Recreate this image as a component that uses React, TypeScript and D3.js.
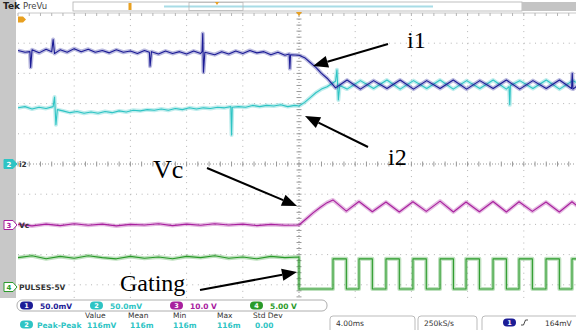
import React from "react";
import * as d3 from "d3";

type Pt = [number, number];

const W = 576;
const H = 330;

// horizontal 4.00 ms/div, trigger at 0 ms
// i1 (ch1) in mV, 50.0 mV/div
const i1Trace: Pt[] = [
  [-20, 188], [-19.5, 185], [-19.15, 186], [-19.1, 160], [-19.0, 189], [-18.5, 184],
  [-18.0, 190], [-17.6, 186], [-17.5, 206], [-17.4, 183], [-17.0, 189], [-16.5, 185],
  [-16.0, 191], [-15.5, 186], [-15.0, 190], [-14.5, 185], [-14.0, 188], [-13.5, 184],
  [-13.0, 189], [-12.5, 185], [-12.0, 187], [-11.5, 183], [-11.0, 188], [-10.65, 185],
  [-10.6, 162], [-10.5, 186], [-10.0, 182], [-9.5, 187], [-9.0, 183], [-8.5, 186],
  [-8.0, 182], [-7.5, 187], [-7.0, 183], [-6.9, 186], [-6.85, 216], [-6.8, 152],
  [-6.7, 185], [-6.0, 181], [-5.5, 186], [-5.0, 182], [-4.5, 187], [-4.0, 183],
  [-3.5, 188], [-3.0, 184], [-2.5, 186], [-2.0, 181], [-1.5, 185], [-1.0, 180],
  [-0.7, 182], [-0.65, 158], [-0.6, 181], [0, 180], [0.4, 176], [0.8, 168],
  [1.2, 160], [1.6, 150], [2.0, 142], [2.6, 126], [3.42, 139], [4.37, 124],
  [5.31, 138], [6.26, 125], [7.2, 139], [8.15, 124], [9.09, 138], [10.04, 125],
  [10.98, 139], [11.93, 124], [12.87, 138], [13.82, 125], [14.76, 139], [15.71, 124],
  [16.65, 138], [17.6, 125], [18.54, 139], [19.4, 125], [19.45, 150], [19.5, 124],
  [20, 133],
];

// i2 (ch2) in mV, 50.0 mV/div
const i2Trace: Pt[] = [
  [-20, 93], [-19.5, 95], [-19.0, 91], [-18.5, 94], [-18.0, 92], [-17.5, 95],
  [-17.4, 111], [-17.3, 65], [-17.2, 90], [-16.8, 88], [-16.3, 85], [-15.8, 87],
  [-15.3, 84], [-14.8, 86], [-14.3, 84], [-13.8, 87], [-13.3, 85], [-12.8, 88],
  [-12.3, 86], [-11.8, 89], [-11.3, 88], [-10.8, 90], [-10.3, 89], [-9.8, 91],
  [-9.3, 89], [-8.8, 92], [-8.3, 90], [-7.8, 93], [-7.3, 91], [-6.8, 93],
  [-6.3, 92], [-5.8, 94], [-5.3, 93], [-4.85, 95], [-4.8, 48], [-4.75, 94],
  [-4.3, 95], [-3.8, 94], [-3.3, 97], [-2.8, 95], [-2.3, 97], [-1.8, 96],
  [-1.3, 98], [-0.8, 95], [-0.3, 97], [0, 96], [0.4, 102], [0.8, 110],
  [1.2, 118], [1.6, 124], [2.0, 128], [2.4, 134], [2.6, 137], [2.7, 156],
  [2.8, 106], [2.9, 130], [3.42, 124], [4.37, 138], [5.31, 125], [6.26, 139],
  [7.2, 124], [8.15, 138], [9.09, 125], [10.04, 139], [10.98, 124], [11.93, 138],
  [12.87, 125], [13.82, 139], [14.76, 124], [14.95, 128], [15.0, 98], [15.05, 130],
  [15.71, 138], [16.65, 125], [17.6, 139], [18.54, 124], [19.49, 138], [20, 132],
];

// Vc (ch3) in V, 10.0 V/div
const vcTrace: Pt[] = [
  [-20, 0.2], [-19, -0.3], [-18, 0.3], [-17, -0.2], [-16, 0.4], [-15, -0.1],
  [-14, 0.3], [-13, -0.3], [-12, 0.2], [-11, 0.0], [-10, 0.4], [-9, -0.2],
  [-8, 0.3], [-7, -0.1], [-6, 0.4], [-5, 0.0], [-4, 0.3], [-3, -0.2],
  [-2, 0.2], [-1, -0.1], [0, 0.0], [0.5, 2.0], [1.0, 4.0], [1.5, 5.8],
  [2.0, 7.4], [2.42, 8.3], [3.37, 4.6], [4.27, 7.8], [5.22, 4.4], [6.19, 7.6],
  [7.14, 4.3], [8.11, 7.7], [9.06, 4.5], [10.04, 7.9], [10.99, 4.3], [11.89, 7.6],
  [12.84, 4.4], [13.81, 7.8], [14.76, 4.3], [15.66, 7.7], [16.61, 4.5], [17.58, 7.6],
  [18.53, 4.3], [19.43, 7.7], [20, 5.6],
];

// Gating (ch4) in V, 5.00 V/div
const gatePre: Pt[] = [
  [-20, 5.2], [-19, 5.5], [-18, 5.0], [-17, 5.4], [-16, 5.1], [-15, 5.5],
  [-14, 5.2], [-13, 5.0], [-12, 5.4], [-11, 5.1], [-10, 5.3], [-9, 5.0],
  [-8, 5.4], [-7, 5.2], [-6, 5.5], [-5, 5.1], [-4, 5.3], [-3, 5.0],
  [-2, 5.4], [-1, 5.2], [0, 5.3],
];
const gateRise = [2.42, 4.27, 6.19, 8.11, 10.04, 11.89, 13.81, 15.66, 17.58, 19.43];
const gateFall = [3.37, 5.22, 7.14, 9.06, 10.99, 12.84, 14.76, 16.61, 18.53, 20.38];

const channels = [
  { id: "1", color: "#1c1c96", setting: "50.0mV", perDiv: 50, pos: 0 },
  { id: "2", color: "#2ec4c4", setting: "50.0mV", perDiv: 50, pos: 0 },
  { id: "3", color: "#a8209e", setting: "10.0 V", perDiv: 10, pos: -2.02 },
  { id: "4", color: "#2a9a2a", setting: "5.00 V", perDiv: 5, pos: -4.14 },
];

const measHeader = ["Value", "Mean", "Min", "Max", "Std Dev"];
const measValues = ["116mV", "116m", "116m", "116m", "0.00"];

const x = d3.scaleLinear().domain([-20, 20]).range([18, 580]);
const y = d3.scaleLinear().domain([-5, 5]).range([315, 13]);

const line = d3.line<Pt>().x((d) => d[0]).y((d) => d[1]);

function tracePath(pts: Pt[], ch: number) {
  const c = channels[ch];
  return line(pts.map(([t, v]) => [x(t), y(c.pos + v / c.perDiv)] as Pt)) || "";
}

function Trace({ pts, ch }: { pts: Pt[]; ch: number }) {
  const d = tracePath(pts, ch);
  const col = channels[ch].color;
  return (
    <g fill="none" stroke={col} strokeLinejoin="round">
      <path d={d} strokeWidth={4} opacity={0.3} />
      <path d={d} strokeWidth={1.1} />
    </g>
  );
}

function Arrow({ x1, y1, x2, y2 }: { x1: number; y1: number; x2: number; y2: number }) {
  const a = Math.atan2(y2 - y1, x2 - x1);
  const len = 15, half = 6;
  const bx = x2 - len * Math.cos(a), by = y2 - len * Math.sin(a);
  const p1 = [bx + half * Math.sin(a), by - half * Math.cos(a)];
  const p2 = [bx - half * Math.sin(a), by + half * Math.cos(a)];
  return (
    <g>
      <line x1={x1} y1={y1} x2={bx} y2={by} stroke="#000" strokeWidth={2} />
      <path d={`M${x2},${y2}L${p1[0]},${p1[1]}L${p2[0]},${p2[1]}Z`} fill="#000" />
    </g>
  );
}

function ChTag({ yy, color, id, filled, label }: { yy: number; color: string; id: string; filled: boolean; label: string }) {
  return (
    <g fontFamily="DejaVu Sans, sans-serif" fontSize={7} fontWeight="bold">
      <path
        d={`M4,${yy - 4.5}h9l4,4.5l-4,4.5h-9z`}
        fill={filled ? color : "#fff"}
        stroke={color}
        strokeWidth={1}
      />
      <text x={9} y={yy + 2.5} textAnchor="middle" fill={filled ? "#fff" : color}>{id}</text>
      <text x={19} y={yy + 3} fill="#333" fontSize={7.5}>{label}</text>
    </g>
  );
}

export default function App() {
  const gatePts: Pt[] = [...gatePre, [0, 0]];
  gateRise.forEach((r, i) => {
    gatePts.push([r, 0], [r, 5], [gateFall[i], 5], [gateFall[i], 0]);
  });

  const vGrid = d3.range(-16, 17, 4);
  const hGrid = d3.range(-4, 5, 1);
  const minorX = d3.range(-20, 20.01, 0.8);
  const minorY = d3.range(-5, 5.01, 0.2);
  const sans = "DejaVu Sans, sans-serif";

  return (
    <svg width={W} height={H} style={{ position: "absolute", left: 0, top: 0, background: "#fff" }}>
      <defs>
        <clipPath id="plot">
          <rect x={18} y={13} width={W - 18} height={285} />
        </clipPath>
      </defs>
      <rect width={W} height={H} fill="#fff" />

      {/* left strip and top bar */}
      <rect x={0} y={0} width={16} height={298} fill="#c8c8c8" />
      <rect x={73} y={2} width={449} height={9} fill="#fff" stroke="#b0b0b0" strokeWidth={0.8} />
      <rect x={522} y={2} width={54} height={9} fill="#c4c4c4" />
      <line x1={164} x2={433} y1={6.5} y2={6.5} stroke="#a8dce6" strokeWidth={2} />
      <rect x={189} y={2.5} width={54} height={8} fill="none" stroke="#b8b8b8" strokeWidth={0.8} />
      <rect x={128.5} y={3} width={3} height={7} fill="#e8a020" />
      <path d="M215,2h4l-2,3z" fill="#e8a020" />
      <text x={3} y={9} fontFamily={sans} fontSize={9} fontWeight="bold" fill="#222">Tek</text>
      <text x={23} y={9} fontFamily={sans} fontSize={8.5} fill="#444">PreVu</text>

      {/* graticule */}
      <g stroke="#b4b4b4" strokeWidth={1}>
        {vGrid.filter((t) => t !== 0).map((t) => (
          <line key={"v" + t} x1={x(t)} x2={x(t)} y1={13} y2={298} strokeDasharray="1 5.04" />
        ))}
        {hGrid.filter((d) => d !== 0).map((d) => (
          <line key={"h" + d} x1={18} x2={W} y1={y(d)} y2={y(d)} strokeDasharray="1 4.62" />
        ))}
        <line x1={18} x2={W} y1={13} y2={13} stroke="#c8c8c8" />
        <line x1={x(0)} x2={x(0)} y1={13} y2={298} strokeDasharray="1 2" stroke="#999" />
        <line x1={18} x2={W} y1={y(0)} y2={y(0)} strokeDasharray="1 2" stroke="#999" />
        {minorX.map((t) => (
          <g key={"mx" + t}>
            <line x1={x(t)} x2={x(t)} y1={y(0) - 2.5} y2={y(0) + 2.5} stroke="#999" />
            <line x1={x(t)} x2={x(t)} y1={13} y2={16} />
          </g>
        ))}
        {minorY.map((d) => (
          <line key={"my" + d} x1={x(0) - 2.5} x2={x(0) + 2.5} y1={y(d)} y2={y(d)} stroke="#999" />
        ))}
      </g>
      <path d={`M${x(0) - 3},12h6l-3,4z`} fill="#e8a020" />
      <path d="M18,16.5h5l3,3l-3,3h-5z" fill="#e8a020" />

      {/* traces */}
      <g clipPath="url(#plot)">
        <Trace pts={gatePts} ch={3} />
        <Trace pts={vcTrace} ch={2} />
        <Trace pts={i2Trace} ch={1} />
        <Trace pts={i1Trace} ch={0} />
      </g>

      {/* channel markers */}
      <ChTag yy={y(channels[1].pos)} color={channels[1].color} id="2" filled label="i2" />
      <ChTag yy={y(channels[2].pos)} color={channels[2].color} id="3" filled={false} label="Vc" />
      <ChTag yy={y(channels[3].pos) - 2} color={channels[3].color} id="4" filled={false} label="PULSES-5V" />

      {/* annotations */}
      <g fontFamily="Liberation Serif, Times New Roman, serif" fill="#000">
        <text x={407} y={48} fontSize={24}>i1</text>
        <text x={388} y={165} fontSize={24}>i2</text>
        <text x={153} y={178} fontSize={26}>Vc</text>
        <text x={120} y={291} fontSize={24}>Gating</text>
      </g>
      <Arrow x1={388} y1={44} x2={313} y2={66} />
      <Arrow x1={368} y1={147} x2={305} y2={116} />
      <Arrow x1={207} y1={168} x2={297} y2={206} />
      <Arrow x1={200} y1={290} x2={297} y2={272} />

      {/* bottom readout */}
      <rect x={16} y={298} width={W - 16} height={32} fill="#fff" />
      <rect x={17} y={300} width={310} height={11} rx={5} fill="#fff" stroke="#999" strokeWidth={0.8} />
      <g fontFamily={sans} fontSize={7.5} fontWeight="bold">
        {channels.map((c, i) => {
          const px = [20, 90, 170, 250][i];
          return (
            <g key={c.id}>
              <rect x={px} y={301.5} width={13} height={8} rx={4} fill={c.color} />
              <text x={px + 6.5} y={308.3} textAnchor="middle" fill="#fff" fontSize={6.5}>{c.id}</text>
              <text x={px + 20} y={308.5} fill={c.color}>{c.setting}</text>
            </g>
          );
        })}
      </g>
      <g fontFamily={sans} fontSize={7.5}>
        {measHeader.map((h, i) => (
          <text key={h} x={[85, 128, 173, 217, 253][i]} y={318} fill="#333">{h}</text>
        ))}
        <rect x={20} y={320.5} width={13} height={8} rx={4} fill={channels[1].color} />
        <text x={26.5} y={327.3} textAnchor="middle" fill="#fff" fontSize={6.5} fontWeight="bold">2</text>
        <text x={37} y={327.5} fill={channels[1].color} fontWeight="bold">Peak-Peak</text>
        {measValues.map((v, i) => (
          <text key={i} x={[87, 130, 173, 217, 255][i]} y={327.5} fill={channels[1].color} fontWeight="bold">{v}</text>
        ))}
      </g>
      <g fontFamily={sans} fontSize={7.5} fill="#333">
        <rect x={330} y={316} width={85} height={18} rx={3} fill="#fff" stroke="#aaa" strokeWidth={0.8} />
        <text x={336} y={325.5}>4.00ms</text>
        <rect x={418} y={316} width={59} height={18} rx={3} fill="#fff" stroke="#aaa" strokeWidth={0.8} />
        <text x={424} y={325.5}>250kS/s</text>
        <rect x={482} y={316} width={100} height={18} rx={3} fill="#fff" stroke="#aaa" strokeWidth={0.8} />
        <rect x={503} y={318.5} width={13} height={8} rx={4} fill={channels[0].color} />
        <text x={509.5} y={325.3} textAnchor="middle" fill="#fff" fontSize={6.5} fontWeight="bold">1</text>
        <path d="M521,325h2.5l2,-5h2.5" fill="none" stroke="#333" strokeWidth={0.9} />
        <text x={545} y={325.5}>164mV</text>
      </g>
    </svg>
  );
}
